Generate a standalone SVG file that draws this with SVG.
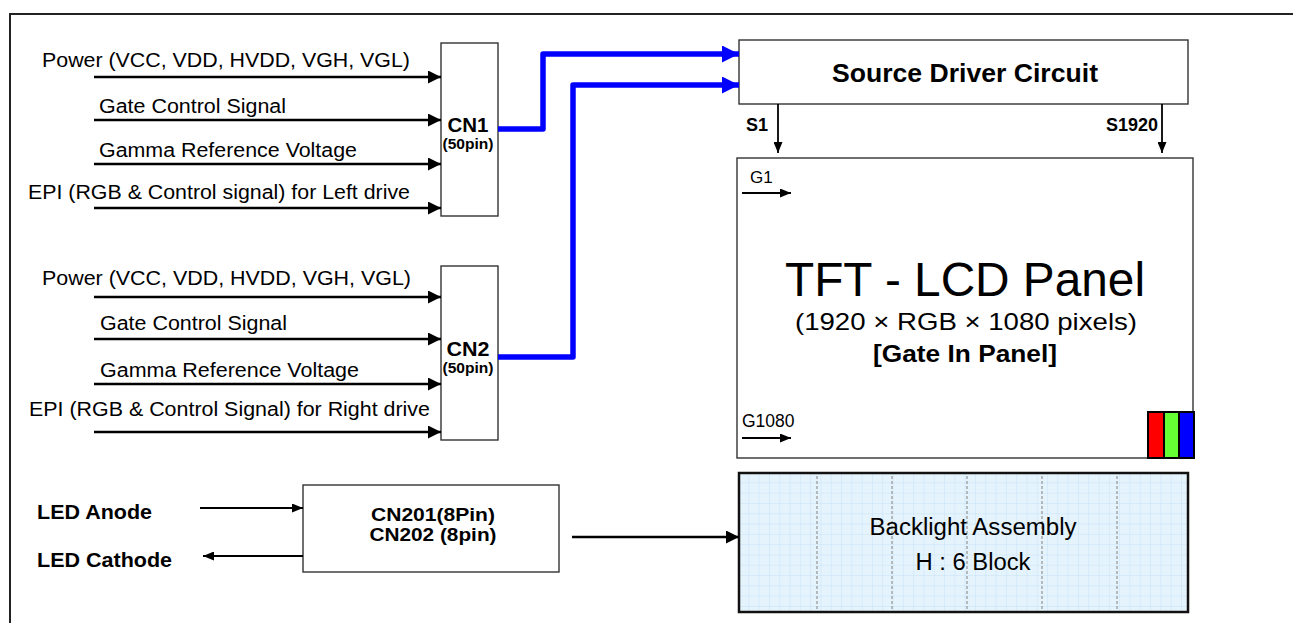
<svg xmlns="http://www.w3.org/2000/svg" width="1293" height="623" viewBox="0 0 1293 623">
<style>
text{font-family:"Liberation Sans",Arial,sans-serif;fill:#000}
.lbl{font-size:20px}
.b{font-weight:bold}
.box{fill:#fff;stroke:#333;stroke-width:1.4}
.sig{stroke:#000;stroke-width:2.6;fill:none;marker-end:url(#ah)}
.thin{stroke:#000;stroke-width:1.8;fill:none;marker-end:url(#ahs)}
.bus{stroke:#0000ff;stroke-width:5.5;fill:none;stroke-linejoin:round;marker-end:url(#ahb)}
.div{stroke:#9a9a9a;stroke-width:1.3;stroke-dasharray:3 2}
</style>
<defs>
<marker id="ah" markerUnits="userSpaceOnUse" markerWidth="13" markerHeight="13" refX="13" refY="6.5" orient="auto"><path d="M0,0 L13,6.5 L0,13 z" fill="#000"/></marker>
<marker id="ahb" markerUnits="userSpaceOnUse" markerWidth="17" markerHeight="17" refX="17" refY="8.5" orient="auto"><path d="M0,0 L17,8.5 L0,17 z" fill="#0000ff"/></marker>
<marker id="ahs" markerUnits="userSpaceOnUse" markerWidth="11" markerHeight="9" refX="11" refY="4.5" orient="auto"><path d="M0,0 L11,4.5 L0,9 z" fill="#000"/></marker>
<pattern id="grid" patternUnits="userSpaceOnUse" x="739" y="473" width="10.3" height="10.3"><rect width="10.3" height="10.3" fill="#e5f3fd"/><path d="M10.3,0 V10.3 M0,10.3 H10.3" stroke="#c4e0f5" stroke-width="0.9"/></pattern>
</defs>

<path id="frame" d="M1293,14 H10 V623" fill="none" stroke="#222" stroke-width="2"/>

<g id="cn1-inputs">
<text class="lbl" x="42" y="67" textLength="368" lengthAdjust="spacingAndGlyphs">Power (VCC, VDD, HVDD, VGH, VGL)</text>
<text class="lbl" x="99" y="113" textLength="187" lengthAdjust="spacingAndGlyphs">Gate Control Signal</text>
<text class="lbl" x="99" y="157" textLength="258" lengthAdjust="spacingAndGlyphs">Gamma Reference Voltage</text>
<text class="lbl" x="28" y="199" textLength="382" lengthAdjust="spacingAndGlyphs">EPI (RGB &amp; Control signal) for Left drive</text>
</g>
<g id="cn2-inputs">
<text class="lbl" x="42" y="285" textLength="369" lengthAdjust="spacingAndGlyphs">Power (VCC, VDD, HVDD, VGH, VGL)</text>
<text class="lbl" x="100" y="330" textLength="187" lengthAdjust="spacingAndGlyphs">Gate Control Signal</text>
<text class="lbl" x="100" y="377" textLength="259" lengthAdjust="spacingAndGlyphs">Gamma Reference Voltage</text>
<text class="lbl" x="29" y="416" textLength="401" lengthAdjust="spacingAndGlyphs">EPI (RGB &amp; Control Signal) for Right drive</text>
</g>

<g id="cn1">
<rect class="box" x="441" y="43" width="57" height="173"/>
<text class="b" x="468" y="132" font-size="20" text-anchor="middle" textLength="41" lengthAdjust="spacingAndGlyphs">CN1</text>
<text class="b" x="468" y="149" font-size="14" text-anchor="middle" textLength="51" lengthAdjust="spacingAndGlyphs">(50pin)</text>
</g>
<g id="cn2">
<rect class="box" x="441" y="266" width="57" height="174"/>
<text class="b" x="468" y="356" font-size="20" text-anchor="middle" textLength="43" lengthAdjust="spacingAndGlyphs">CN2</text>
<text class="b" x="468" y="373" font-size="14" text-anchor="middle" textLength="51" lengthAdjust="spacingAndGlyphs">(50pin)</text>
</g>

<g id="source-driver">
<rect class="box" x="739" y="40" width="449" height="64"/>
<text class="b" x="965" y="82" font-size="26" text-anchor="middle" textLength="266" lengthAdjust="spacingAndGlyphs">Source Driver Circuit</text>
<text class="b" x="746" y="131" font-size="18">S1</text>
<text class="b" x="1158" y="131" font-size="18" text-anchor="end">S1920</text>
</g>

<g id="tft-panel">
<rect class="box" x="737" y="158" width="456" height="300"/>
<text x="750" y="183" font-size="17">G1</text>
<text x="742" y="427" font-size="17.5">G1080</text>
<text x="965" y="296" font-size="48" text-anchor="middle" textLength="360" lengthAdjust="spacingAndGlyphs">TFT - LCD Panel</text>
<text x="966" y="330" font-size="24" text-anchor="middle" textLength="342" lengthAdjust="spacingAndGlyphs">(1920 × RGB × 1080 pixels)</text>
<text class="b" x="965" y="362" font-size="24" text-anchor="middle" textLength="184" lengthAdjust="spacingAndGlyphs">[Gate In Panel]</text>
<rect x="1148" y="412" width="16" height="46" fill="#ff0000" stroke="#000" stroke-width="2"/>
<rect x="1164" y="412" width="15" height="46" fill="#66ff33" stroke="#000" stroke-width="2"/>
<rect x="1179" y="412" width="15" height="46" fill="#0000ff" stroke="#000" stroke-width="2"/>
</g>

<g id="cn201">
<rect class="box" x="303" y="485" width="256" height="87"/>
<text class="b" x="433" y="521" font-size="17.5" text-anchor="middle" textLength="124" lengthAdjust="spacingAndGlyphs">CN201(8Pin)</text>
<text class="b" x="433" y="541" font-size="17.5" text-anchor="middle" textLength="127" lengthAdjust="spacingAndGlyphs">CN202 (8pin)</text>
</g>

<g id="led-labels">
<text class="b" x="37" y="519" font-size="20" textLength="115" lengthAdjust="spacingAndGlyphs">LED Anode</text>
<text class="b" x="37" y="567" font-size="20" textLength="135" lengthAdjust="spacingAndGlyphs">LED Cathode</text>
</g>

<g id="backlight">
<rect x="739" y="473" width="449" height="139" fill="url(#grid)"/>
<path class="div" d="M817,476 V609 M892,476 V609 M967,476 V609 M1042,476 V609 M1117,476 V609"/>
<rect x="739" y="473" width="449" height="139" fill="none" stroke="#111" stroke-width="2.5"/>
<text x="973" y="535" font-size="23" text-anchor="middle" textLength="207" lengthAdjust="spacingAndGlyphs">Backlight Assembly</text>
<text x="973" y="570" font-size="23" text-anchor="middle" textLength="115" lengthAdjust="spacingAndGlyphs">H : 6 Block</text>
</g>

<g id="connectors">
<path class="sig" d="M94,77 H441"/>
<path class="sig" d="M94,120 H441"/>
<path class="sig" d="M94,164 H441"/>
<path class="sig" d="M94,208 H441"/>
<path class="sig" d="M94,297 H441"/>
<path class="sig" d="M94,339 H441"/>
<path class="sig" d="M94,384 H441"/>
<path class="sig" d="M94,432 H441"/>
<path class="bus" d="M498,129 H543 V54 H739"/>
<path class="bus" d="M498,357 H573 V85 H739"/>
<path class="thin" d="M778,104 V153"/>
<path class="thin" d="M1162,104 V153"/>
<path class="thin" d="M742,193 H791"/>
<path class="thin" d="M742,438 H791"/>
<path class="thin" d="M200,508 H303"/>
<path class="thin" d="M303,556 H203"/>
<path class="sig" d="M572,537 H739" stroke-width="2"/>
</g>
</svg>
